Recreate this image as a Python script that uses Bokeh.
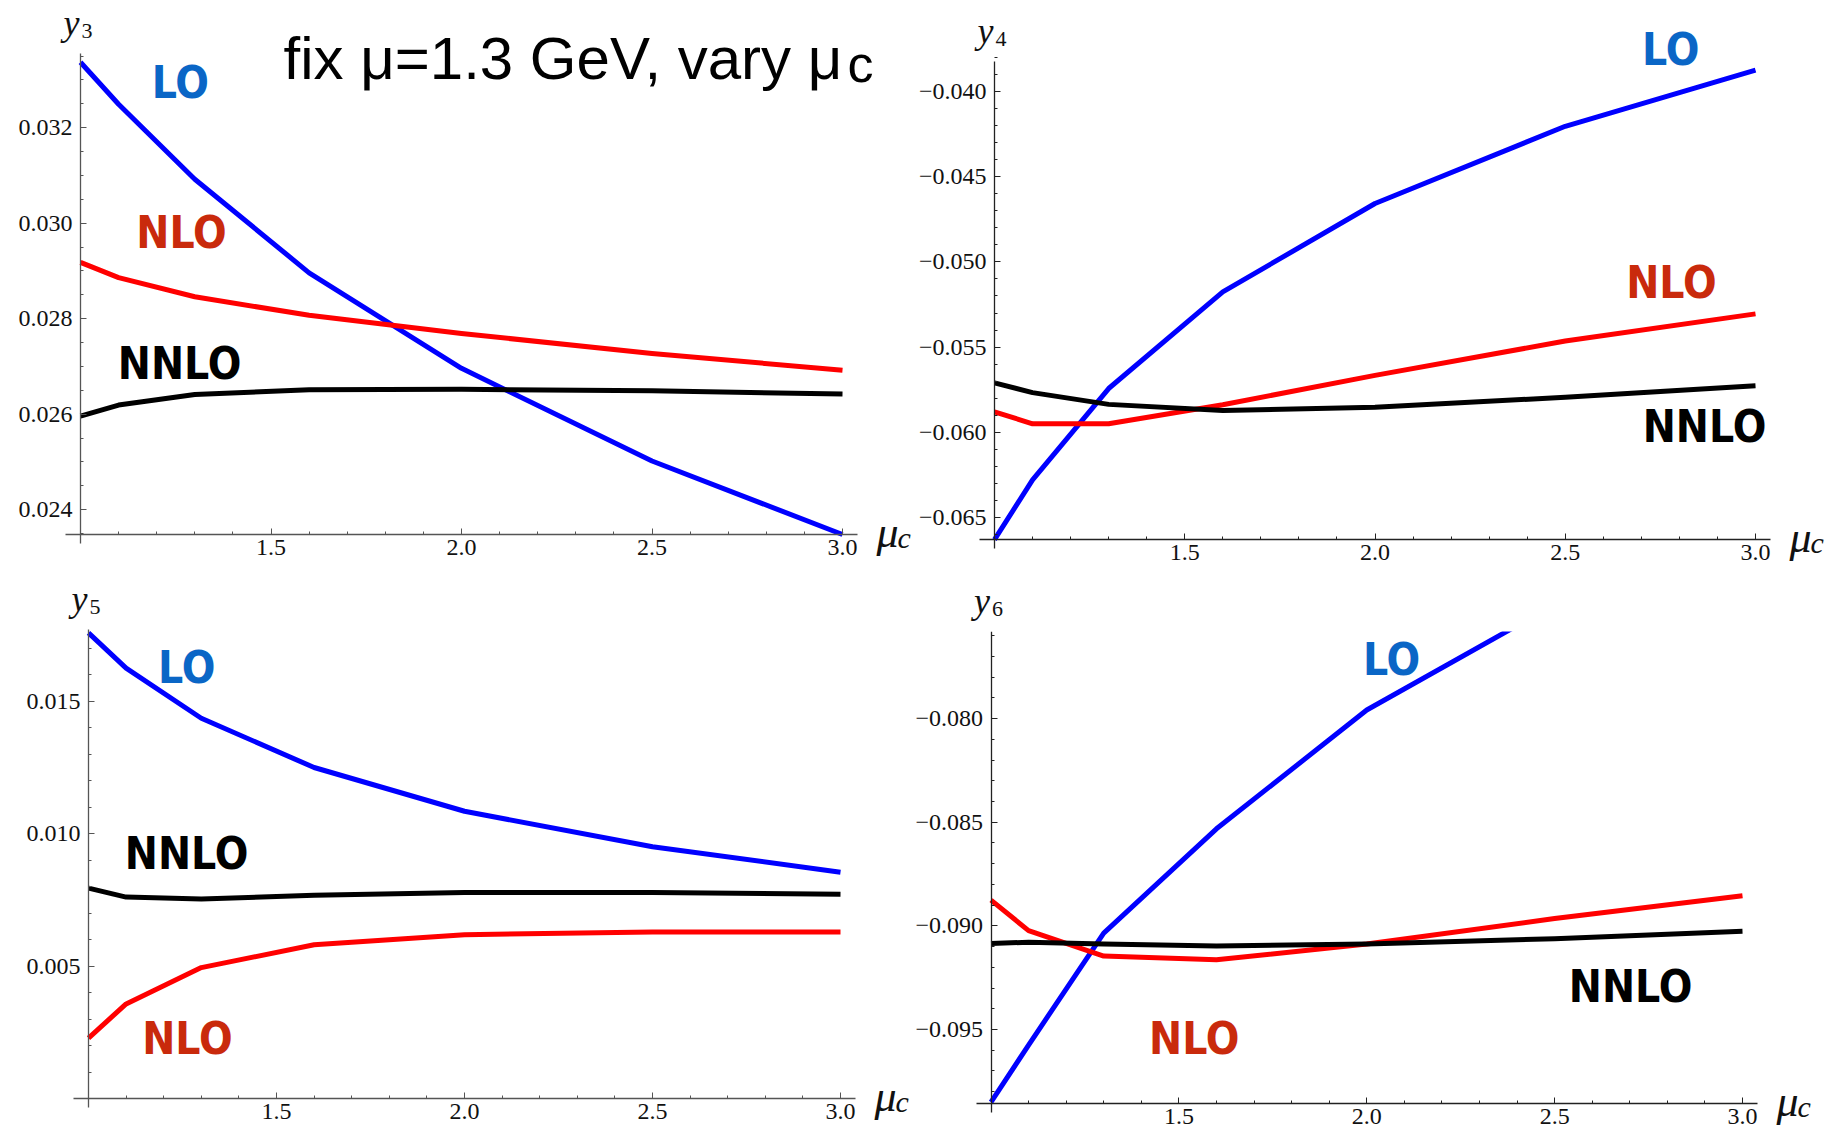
import numpy as np
from bokeh.plotting import figure
from bokeh.layouts import column, row
from bokeh.models import Label, FixedTicker, CustomJSTickFormatter, Range1d
from bokeh.embed import file_html
from bokeh.resources import INLINE

# ---------------- data ----------------
mu_c = [1.0, 1.1, 1.3, 1.6, 2.0, 2.5, 3.0]

y3_LO = [0.03337, 0.03249, 0.03092, 0.02896, 0.02696, 0.02502, 0.02348]
y3_NLO = [0.02918, 0.02886, 0.02846, 0.02807, 0.02769, 0.02727, 0.02692]
y3_NNLO = [0.02596, 0.02619, 0.02641, 0.02651, 0.02652, 0.02649, 0.02642]

y4_LO = [-0.0663, -0.06279, -0.05743, -0.05176, -0.04657, -0.04204, -0.03874]
y4_NLO = [-0.05880, -0.05950, -0.05950, -0.05838, -0.05666, -0.05464, -0.05305]
y4_NNLO = [-0.05710, -0.05767, -0.05836, -0.05872, -0.05853, -0.05794, -0.05727]

y5_LO = [0.01757, 0.01624, 0.01435, 0.01249, 0.01084, 0.00950, 0.00854]
y5_NLO = [0.00228, 0.00357, 0.00494, 0.00580, 0.00618, 0.00628, 0.00628]
y5_NNLO = [0.00794, 0.00760, 0.00753, 0.00767, 0.00777, 0.00777, 0.00771]

y6_LO = [-0.0985, -0.09575, -0.09035, -0.08532, -0.07959, -0.0745, -0.0700]
y6_NLO = [-0.08876, -0.09023, -0.09146, -0.09164, -0.09088, -0.08965, -0.08855]
y6_NNLO = [-0.09085, -0.09079, -0.09088, -0.09097, -0.09088, -0.09062, -0.09026]

x_major = [1.0, 1.5, 2.0, 2.5, 3.0]
y3_major = [0.024, 0.026, 0.028, 0.030, 0.032]
y4_major = [-0.065, -0.060, -0.055, -0.050, -0.045, -0.040]
y5_major = [0.005, 0.010, 0.015]
y6_major = [-0.095, -0.090, -0.085, -0.080]

y_bottoms = [0.02348, -0.06629, 0.0, -0.09857]
order_names = ["LO", "NLO", "NNLO"]
title_text = "fix \u03bc=1.3 GeV, vary \u03bc"

# ---------------- styling / geometry ----------------
LINE_COL = {"LO": "#0000ff", "NLO": "#ff0000", "NNLO": "#000000"}
TAG_COL = {"LO": "#0a66c6", "NLO": "#c92a0c", "NNLO": "#000000"}
TAG_FONT = "DejaVu Sans Condensed"
SERIF = "Liberation Serif"
TXT = "#111111"

# W,H canvas; (ox,oy) axes crossing in canvas px; sx,sy px per unit;
# xend: px where x-axis line ends; ytop: px where y-axis line ends
panels = [
    dict(sub="3", series=(y3_LO, y3_NLO, y3_NNLO), ymin=y_bottoms[0], W=912, H=575,
         ox=80, oy=534, sx=381.0, sy=47750.0, xend=857, ytop=53,
         major=y3_major, ystep=0.0005, ylo=0.0235, yhi=0.0336, axcol="#555555",
         tags={"LO": (1.262, 0.03294), "NLO": (1.265, 0.0298), "NNLO": (1.26, 0.02706)}),
    dict(sub="4", series=(y4_LO, y4_NLO, y4_NNLO), ymin=y_bottoms[1], W=929, H=575,
         ox=82, oy=539, sx=380.5, sy=17040.0, xend=858, ytop=61,
         major=y4_major, ystep=0.001, ylo=-0.066, yhi=-0.038, axcol="#222222",
         tags={"LO": (2.777, -0.03754), "NLO": (2.779, -0.05121), "NNLO": (2.866, -0.05966)}),
    dict(sub="5", series=(y5_LO, y5_NLO, y5_NNLO), ymin=y_bottoms[2], W=912, H=558,
         ox=88, oy=523, sx=376.0, sy=26500.0, xend=855, ytop=54,
         major=y5_major, ystep=0.001, ylo=0.001, yhi=0.0175, axcol="#555555",
         tags={"LO": (1.261, 0.01628), "NLO": (1.263, 0.00225), "NNLO": (1.261, 0.00923)}),
    dict(sub="6", series=(y6_LO, y6_NLO, y6_NNLO), ymin=y_bottoms[3], W=929, H=502,
         ox=78.5, oy=472, sx=375.75, sy=20730.0, xend=845, ytop=0,
         major=y6_major, ystep=0.001, ylo=-0.098, yhi=-0.076, axcol="#222222",
         tags={"LO": (2.066, -0.07715), "NLO": (1.541, -0.09544), "NNLO": (2.702, -0.09293)}),
]
STRIP_H = 56  # text strip above panel 4 (its axis top is the frame top so LO is clipped there)

x_fmt = CustomJSTickFormatter(code="return Math.abs(tick - 1.0) < 1e-9 ? '' : tick.toFixed(1);")
y_fmt = CustomJSTickFormatter(code="return (tick < 0 ? '\u2212' : '') + Math.abs(tick).toFixed(3);")


def ylabel(target, x, y, sub, xo, yo):
    target.add_layout(Label(x=x, y=y, x_offset=xo, y_offset=yo, text="y",
                            text_font=SERIF, text_font_style="italic", text_font_size="36px",
                            text_align="left", text_baseline="alphabetic", text_color=TXT))
    target.add_layout(Label(x=x, y=y, x_offset=xo + 18, y_offset=yo - 8, text=sub,
                            text_font=SERIF, text_font_size="22px",
                            text_align="left", text_baseline="alphabetic", text_color=TXT))


figs = []
for i, pc in enumerate(panels):
    W, H, ox, oy, sx, sy = pc["W"], pc["H"], pc["ox"], pc["oy"], pc["sx"], pc["sy"]
    ymin = pc["ymin"]
    xr = (1.0 - ox / sx, 1.0 + (W - ox) / sx)
    yr = (ymin - (H - oy) / sy, ymin + oy / sy)
    x_axis_end = 1.0 + (pc["xend"] - ox) / sx
    y_axis_top = ymin + (oy - pc["ytop"]) / sy

    p = figure(width=W, height=H, output_backend="svg", toolbar_location=None,
               x_range=Range1d(*xr), y_range=Range1d(*yr),
               min_border_left=0, min_border_right=0, min_border_top=0, min_border_bottom=0)
    p.outline_line_color = None
    p.grid.visible = False
    p.background_fill_color = "white"
    p.border_fill_color = "white"

    for name, ys in zip(order_names, pc["series"]):
        p.line(mu_c, ys, line_color=LINE_COL[name], line_width=5, line_join="round")

    xminor = list(np.round(np.arange(1.0, 3.0001, 0.1), 3))
    p.xaxis.ticker = FixedTicker(ticks=x_major, minor_ticks=xminor)
    p.xaxis.formatter = x_fmt
    p.xaxis.fixed_location = ymin
    p.xaxis.bounds = (1.0 - 15.0 / sx, x_axis_end)
    n = int(round((pc["yhi"] - pc["ylo"]) / pc["ystep"]))
    yminor = [round(pc["ylo"] + k * pc["ystep"], 5) for k in range(n + 1)]
    p.yaxis.ticker = FixedTicker(ticks=pc["major"], minor_ticks=yminor)
    p.yaxis.formatter = y_fmt
    p.yaxis.fixed_location = 1.0
    p.yaxis.bounds = (ymin - 9.0 / sy, y_axis_top)
    for ax in (p.xaxis, p.yaxis):
        ax.axis_line_color = pc["axcol"]
        ax.axis_line_width = 1.3
        ax.major_tick_line_color = pc["axcol"]
        ax.minor_tick_line_color = pc["axcol"]
        ax.major_tick_in = 6
        ax.major_tick_out = 0
        ax.minor_tick_in = 3
        ax.minor_tick_out = 0
        ax.major_label_text_font = SERIF
        ax.major_label_text_font_size = "24px"
        ax.major_label_text_color = TXT
    p.xaxis.major_label_standoff = 5
    p.yaxis.major_label_standoff = 8

    # y_n label at top of vertical axis (panel 4: drawn in the strip above)
    if pc["ytop"] > 0:
        ylabel(p, 1.0, y_axis_top, pc["sub"], -17, 31)
    # mu_c label at the end of the horizontal axis
    p.add_layout(Label(x=x_axis_end, y=ymin, x_offset=19, y_offset=2, text="\u03bc",
                       text_font=SERIF, text_font_style="italic", text_font_size="44px",
                       text_align="left", text_baseline="alphabetic", text_color=TXT))
    p.add_layout(Label(x=x_axis_end, y=ymin, x_offset=40, y_offset=-3, text="c",
                       text_font=SERIF, text_font_style="italic", text_font_size="30px",
                       text_align="left", text_baseline="alphabetic", text_color=TXT))
    for name in order_names:
        tx, ty = pc["tags"][name]
        p.add_layout(Label(x=tx, y=ty, text=name, text_font=TAG_FONT, text_font_style="bold",
                           text_font_size="44px", text_align="center", text_baseline="middle",
                           text_color=TAG_COL[name]))
    if i == 0:
        p.add_layout(Label(x=1.0, y=y_axis_top, x_offset=203, y_offset=-5, text=title_text,
                           text_font="Liberation Sans", text_font_size="60px",
                           text_align="left", text_baseline="alphabetic", text_color="black"))
        p.add_layout(Label(x=1.0, y=y_axis_top, x_offset=767, y_offset=-10, text="c",
                           text_font="Liberation Sans", text_font_size="52px",
                           text_align="left", text_baseline="alphabetic", text_color="black"))
    figs.append(p)

# text strip above panel 4 carrying its y6 label
pc4 = panels[3]
strip = figure(width=pc4["W"], height=STRIP_H, output_backend="svg", toolbar_location=None,
               x_range=Range1d(0, pc4["W"]), y_range=Range1d(0, STRIP_H),
               min_border_left=0, min_border_right=0, min_border_top=0, min_border_bottom=0)
strip.axis.visible = False
strip.grid.visible = False
strip.outline_line_color = None
ylabel(strip, pc4["ox"], 0, pc4["sub"], -17, 31)

layout = column(row(figs[0], figs[1]), row(figs[2], column(strip, figs[3])))
open("out.html", "w").write(file_html(layout, INLINE))
